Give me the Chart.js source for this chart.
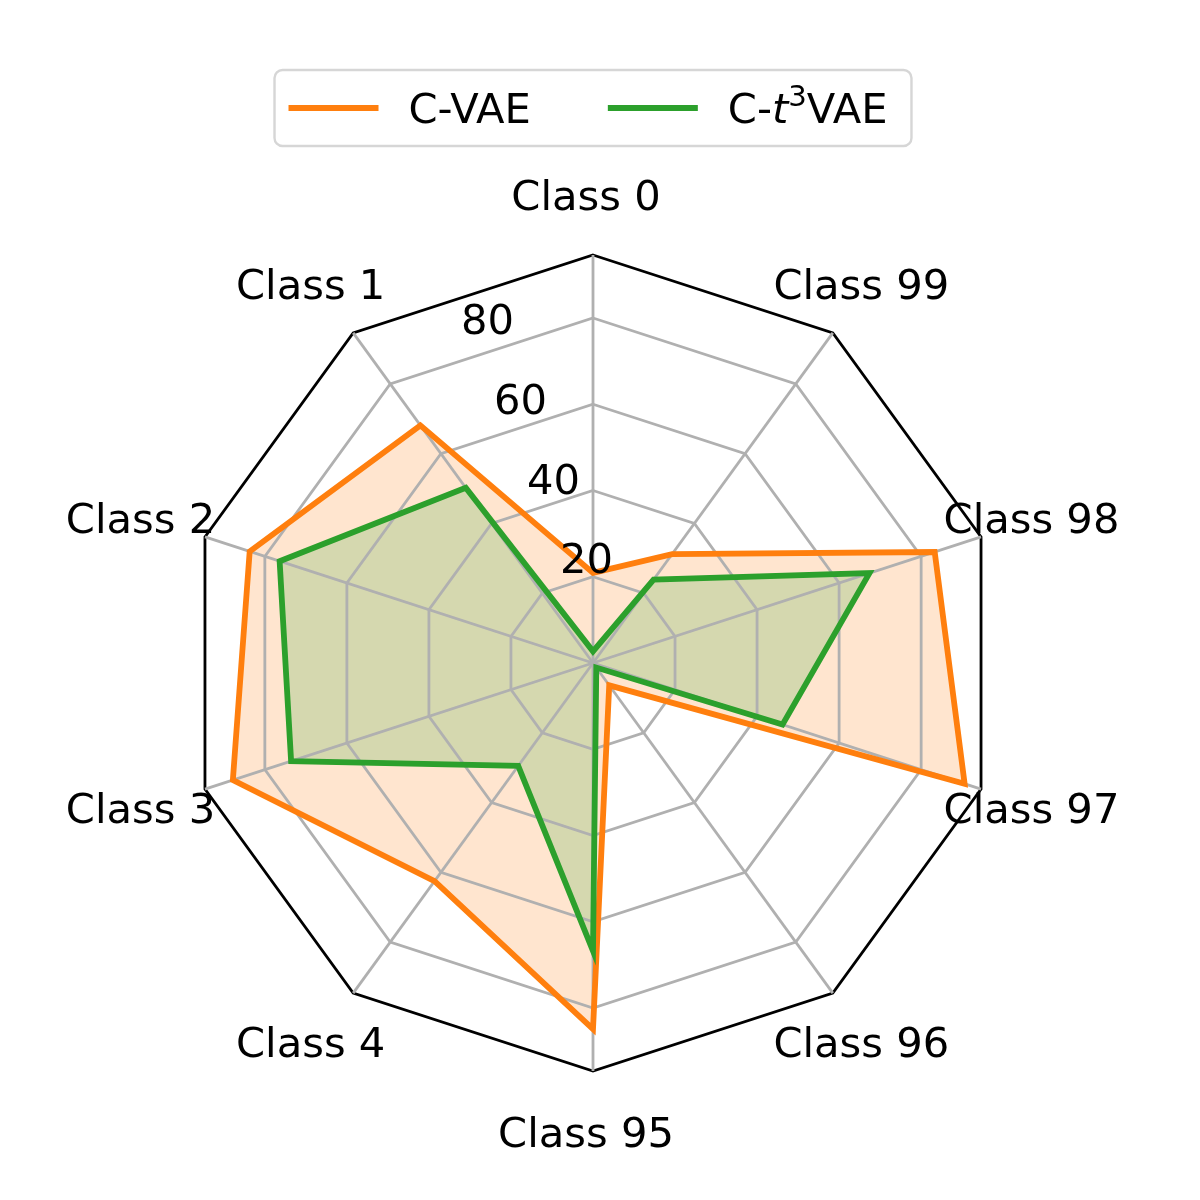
<!DOCTYPE html>
<html><head><meta charset="utf-8">
<script src="https://cdn.jsdelivr.net/npm/chart.js@4.4.1/dist/chart.umd.min.js"></script>
<style>html,body{margin:0;padding:0;background:#fff;}canvas{display:block;}</style>
</head><body>
<canvas id="c" width="1200" height="1200"></canvas>
<script>
// ---- data (clockwise from top) ----
const categories = ['Class 0','Class 99','Class 98','Class 97','Class 96','Class 95','Class 4','Class 3','Class 2','Class 1'];
const cvaeValues = [20.9, 31.2, 83.3, 90.6, 6.4, 84.9, 62.5, 87.8, 83.7, 68.1];
const ct3vaeValues = [2.7, 23.9, 67.4, 46.2, 1.3, 66.8, 29.5, 73.6, 76.4, 50.2];
const tickValues = [20, 40, 60, 80];
const rMax = 94.6;
const seriesNames = ['C-VAE', 'C-t³VAE'];
const seriesColors = ['#ff7f0e', '#2ca02c'];
const seriesFills = ['rgba(255,127,14,0.2)', 'rgba(44,160,44,0.2)'];

const FS = 41.67;
const FONT = '"DejaVu Sans", sans-serif';

// rich legend text: [text, style]
const legendRich = [
  [['C-VAE', 'n']],
  [['C-', 'n'], ['t', 'i'], ['3', 's'], ['VAE', 'n']]
];

function setFont(ctx, st) {
  if (st === 'i') ctx.font = `italic ${FS}px ${FONT}`;
  else if (st === 's') ctx.font = `${FS*0.7}px ${FONT}`;
  else ctx.font = `${FS}px ${FONT}`;
}
function richWidth(ctx, parts) {
  let w = 0;
  parts.forEach(([t, st]) => { setFont(ctx, st); w += ctx.measureText(t).width; });
  return w;
}

const textPlugin = {
  id: 'texts',
  afterDraw(chart) {
    const ctx = chart.ctx, s = chart.scales.r;
    ctx.save();
    ctx.fillStyle = '#000';
    ctx.font = `${FS}px ${FONT}`;
    // radial tick labels along 22.5deg
    ctx.textAlign = 'left';
    ctx.textBaseline = 'alphabetic';
    const a = 22.5 * Math.PI / 180;
    tickValues.forEach(v => {
      const d = s.getDistanceFromCenterForValue(v);
      const x = s.xCenter - d * Math.sin(a);
      const y = s.yCenter - d * Math.cos(a);
      ctx.fillText(String(v), x, y - 0.236 * FS);
    });
    // category labels
    ctx.textAlign = 'center';
    categories.forEach((lab, i) => {
      const p = s.getPointPosition(i, s.drawingArea * 1.148);
      ctx.fillText(lab, p.x - 7, p.y + 0.3645 * FS);
    });
    // legend
    const handleLen = 90, handleGap = 30, colGap = 77, padL = 14, padR = 24;
    const widths = legendRich.map(p => richWidth(ctx, p));
    let total = padL + padR + colGap * (legendRich.length - 1);
    widths.forEach(w => total += handleLen + handleGap + w);
    const left = s.xCenter - total / 2;
    const top = 70, h = 76, r = 8;
    ctx.beginPath();
    ctx.moveTo(left + r, top);
    ctx.lineTo(left + total - r, top);
    ctx.arcTo(left + total, top, left + total, top + r, r);
    ctx.lineTo(left + total, top + h - r);
    ctx.arcTo(left + total, top + h, left + total - r, top + h, r);
    ctx.lineTo(left + r, top + h);
    ctx.arcTo(left, top + h, left, top + h - r, r);
    ctx.lineTo(left, top + r);
    ctx.arcTo(left, top, left + r, top, r);
    ctx.closePath();
    ctx.fillStyle = 'rgba(255,255,255,0.8)';
    ctx.fill();
    ctx.strokeStyle = '#d6d6d6';
    ctx.lineWidth = 2.4;
    ctx.stroke();
    const cy = top + h / 2;
    let x = left + padL;
    legendRich.forEach((parts, k) => {
      ctx.beginPath();
      ctx.moveTo(x, cy);
      ctx.lineTo(x + handleLen, cy);
      ctx.strokeStyle = seriesColors[k];
      ctx.lineWidth = 5.8;
      ctx.lineCap = 'butt';
      ctx.stroke();
      x += handleLen + handleGap;
      ctx.fillStyle = '#000';
      ctx.textAlign = 'left';
      const base = cy + 0.3645 * FS;
      parts.forEach(([t, st]) => {
        setFont(ctx, st);
        const yy = st === 's' ? base - 0.42 * FS : base;
        ctx.fillText(t, x, yy);
        x += ctx.measureText(t).width;
      });
      x += colGap;
    });
    ctx.restore();
  }
};

new Chart(document.getElementById('c'), {
  type: 'radar',
  data: {
    labels: categories,
    datasets: [
      { label: seriesNames[0], data: cvaeValues, borderColor: seriesColors[0], backgroundColor: seriesFills[0],
        fill: true, borderWidth: 5.8, pointRadius: 0, pointHoverRadius: 0, order: 2, borderJoinStyle: 'miter' },
      { label: seriesNames[1], data: ct3vaeValues, borderColor: seriesColors[1], backgroundColor: seriesFills[1],
        fill: true, borderWidth: 5.8, pointRadius: 0, pointHoverRadius: 0, order: 1, borderJoinStyle: 'miter' }
    ]
  },
  options: {
    responsive: false,
    animation: false,
    events: [],
    devicePixelRatio: 1,
    layout: { padding: { left: 185, right: 198, top: 255, bottom: 128 } },
    plugins: {
      legend: { display: false },
      tooltip: { enabled: false },
      filler: { drawTime: 'beforeDraw' }
    },
    scales: {
      r: {
        min: 0,
        max: rMax,
        startAngle: 0,
        afterBuildTicks: (scale) => { scale.ticks = [0, ...tickValues, rMax].map(v => ({ value: v })); },
        ticks: { display: false },
        pointLabels: { display: false },
        grid: {
          circular: false,
          color: (c) => (c.tick && c.tick.value >= rMax - 1e-9) ? '#000000' : '#b0b0b0',
          lineWidth: 2.8
        },
        angleLines: { display: true, color: '#b0b0b0', lineWidth: 2.8 }
      }
    }
  },
  plugins: [textPlugin]
});
</script>
</body></html>
